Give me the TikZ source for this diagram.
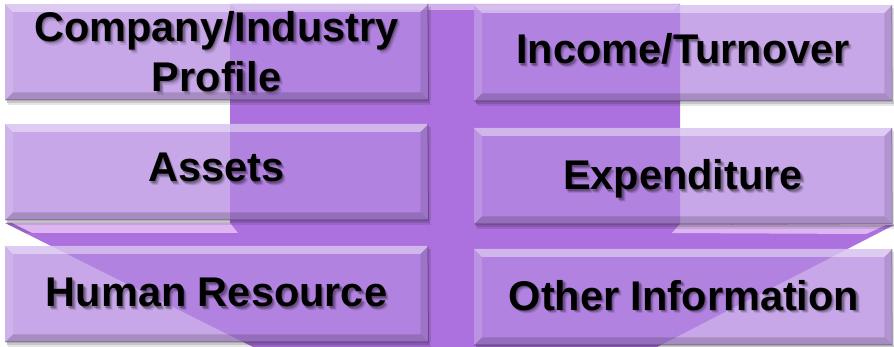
\documentclass[tikz,border=0pt]{standalone}
\usepackage{fontspec}
\setmainfont{Liberation Sans}
\usetikzlibrary{calc}
\definecolor{bgc}{RGB}{172,113,222}
\definecolor{boxc}{RGB}{180,137,224}
\definecolor{hil}{RGB}{238,205,250}
\newcommand\bevelbox[1]{%
  \fill[white,opacity=.42] (#1.north west) -- (#1.north east) -- ($(#1.north east)+(-8,8)$) -- ($(#1.north west)+(8,8)$) -- cycle;
  \fill[white,opacity=.14] (#1.north west) -- ($(#1.north west)+(8,8)$) -- ($(#1.south west)+(8,-8)$) -- (#1.south west) -- cycle;
  \fill[black,opacity=.10] (#1.north east) -- (#1.south east) -- ($(#1.south east)+(-8,-8)$) -- ($(#1.north east)+(-8,8)$) -- cycle;
  \fill[black,opacity=.16] (#1.south west) -- (#1.south east) -- ($(#1.south east)+(-8,-8)$) -- ($(#1.south west)+(8,-8)$) -- cycle;
  \draw[black,opacity=.25,line width=1pt] ($(#1.south west)+(0,-0.5)$) -- ($(#1.south east)+(0,-0.5)$) -- ($(#1.north east)+(-0.5,0)$);
}
\newcommand\boxshadow[1]{%
  \fill[black,opacity=.22] ($(#1.south west)+(2,0)$) rectangle ($(#1.south east)+(2,2.5)$);
  \fill[black,opacity=.10] ($(#1.south west)+(3,2.5)$) rectangle ($(#1.south east)+(3,5)$);
  \fill[black,opacity=.12] ($(#1.north east)+(0,3)$) rectangle ($(#1.south east)+(2.5,0)$);
}
% #1 name, #2 anchor, #3 x, #4 y, #5 text
\newcommand\btext[5]{%
  \node[txt,anchor=#2,text opacity=.10] (#1-s1) at (#3+3.2,#4+3.8) {#5};
  \node[txt,anchor=#2,text opacity=.16] (#1-s2) at (#3+2.2,#4+2.6) {#5};
  \node[txt,anchor=#2,text opacity=.22] (#1-s3) at (#3+1.2,#4+1.4) {#5};
  \node[txt,anchor=#2] (#1) at (#3,#4) {#5};
}
\pgfdeclarelayer{back}
\pgfdeclarelayer{mid}
\pgfsetlayers{back,mid,main}
\begin{document}
\begin{tikzpicture}[x=1pt,y=-1pt,
  box/.style={draw=none, fill=boxc, fill opacity=.74,
    minimum height=96pt, inner sep=0pt, anchor=north west},
  lbox/.style={box, minimum width=423pt},
  rbox/.style={box, minimum width=418pt},
  txt/.style={inner sep=0pt, align=center, text=black,
    font=\fontsize{41.5}{50}\selectfont\bfseries}]
\useasboundingbox (0,0) rectangle (894,347);
\begin{pgfonlayer}{back}
\fill[white] (0,0) rectangle (894,347);
% background shape
\fill[bgc] (230,4) -- (680,4) -- (680,224) -- (894,225) -- (657,347)
  -- (253,347) -- (5,223) -- (230,223) -- cycle;
% bevel highlights of the background shape
\fill[white,opacity=.45] (230,4) -- (680,4) -- (673,10) -- (237,10) -- cycle;
\fill[hil,opacity=.75] (12,223) -- (230,223) -- (238,233) -- (32,233) -- cycle;
\fill[hil,opacity=.75] (680,224) -- (886,225) -- (866,234) -- (672,233) -- cycle;
\fill[black,opacity=.12] (5,223) -- (12,223) -- (32,233) -- (25,233) -- cycle;
\end{pgfonlayer}

\node[lbox] (cipbox) at (5,4)   {};
\node[lbox] (astbox) at (5,124) {};
\node[lbox] (hrbox)  at (5,246) {};
\node[rbox] (incbox) at (474,5)   {};
\node[rbox] (expbox) at (474,128) {};
\node[rbox] (othbox) at (474,249) {};

\foreach \n in {cipbox,astbox,hrbox,incbox,expbox,othbox} {\bevelbox{\n}}
\begin{pgfonlayer}{mid}
\foreach \n in {cipbox,astbox,hrbox,incbox,expbox,othbox} {\boxshadow{\n}}
\end{pgfonlayer}

\btext{cip}{north}{216.5}{11}{Company/Industry\\Profile}
\btext{ast}{base}{216.5}{182}{Assets}
\btext{hr}{base}{216.5}{307}{Human Resource}
\btext{inc}{base}{683}{64}{Income/Turnover}
\btext{exp}{base}{683}{190}{Expenditure}
\btext{oth}{base}{684}{310}{Other Information}
\end{tikzpicture}
\end{document}
